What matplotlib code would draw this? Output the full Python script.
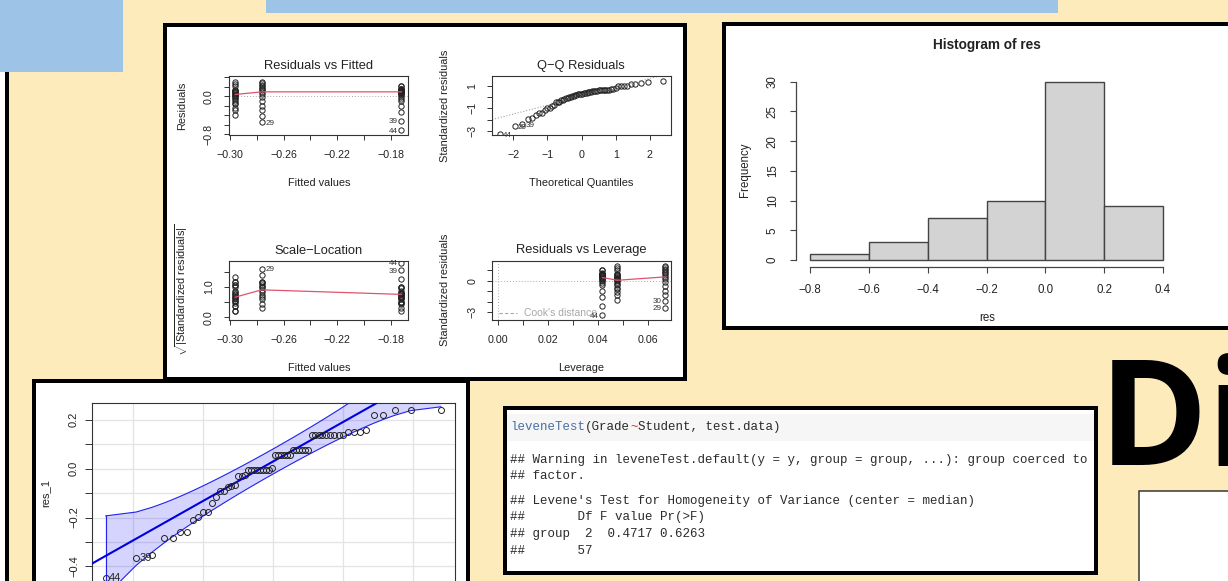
import numpy as np
import matplotlib
matplotlib.use("Agg")
import matplotlib.pyplot as plt
from matplotlib.patches import Rectangle
from statistics import NormalDist

# ---------------- data ----------------
group_names = ["A", "B", "C"]
fitted_levels = [-0.2963, -0.2765, -0.1719]
res_A = [-0.39, -0.30, -0.24, -0.17, -0.15, -0.10, -0.06, -0.03, 0.01, 0.01,
         0.03, 0.05, 0.06, 0.08, 0.09, 0.11, 0.13, 0.13, 0.22, 0.25, 0.30]
res_B = [-0.55, -0.41, -0.30, -0.21, -0.10, -0.02, 0.04, 0.08, 0.12, 0.15,
         0.18, 0.21, 0.24, 0.27, 0.29]
res_C = [-0.71, -0.52, -0.34, -0.21, -0.10, -0.05, -0.01, 0.02, 0.04, 0.06,
         0.06, 0.08, 0.09, 0.09, 0.11, 0.11, 0.13, 0.13, 0.13, 0.14, 0.14,
         0.16, 0.22, 0.22]
flag_ids = {("B", 0): "29", ("B", 1): "30", ("C", 0): "44", ("C", 1): "39"}

rvf_smooth = [0.035, 0.09, 0.09]
sl_smooth = [0.67, 0.91, 0.76]
rvl_lev = [0.0417, 0.0476, 0.0667]
rvl_smooth = [0.29, 0.03, 0.35]

hist_breaks = [-0.8, -0.6, -0.4, -0.2, 0.0, 0.2, 0.4]

res1_sorted = [-0.449, -0.365, -0.354, -0.283, -0.282, -0.259, -0.259, -0.211, -0.197, -0.177,
               -0.177, -0.139, -0.116, -0.091, -0.091, -0.075, -0.070, -0.068, -0.031, -0.031,
               -0.024, -0.007, -0.007, -0.007, -0.007, -0.007, -0.007, -0.007, -0.007, 0.004,
               0.054, 0.054, 0.054, 0.054, 0.054, 0.054, 0.078, 0.078, 0.078, 0.078,
               0.078, 0.078, 0.139, 0.139, 0.139, 0.139, 0.139, 0.139, 0.139, 0.139,
               0.139, 0.150, 0.150, 0.150, 0.159, 0.220, 0.220, 0.242, 0.242, 0.242]
res1_labels = {0: "44", 1: "39"}

code_lines = [
    [("leveneTest", "#4A6FA5"), ("(Grade", "#2B2B2B"), ("~", "#C0392B"), ("Student, test.data)", "#2B2B2B")],
    [("## Warning in leveneTest.default(y = y, group = group, ...): group coerced to", "#2B2B2B")],
    [("## factor.", "#2B2B2B")],
    [("## Levene's Test for Homogeneity of Variance (center = median)", "#2B2B2B")],
    [("##       Df F value Pr(>F)", "#2B2B2B")],
    [("## group  2  0.4717 0.6263", "#2B2B2B")],
    [("##       57", "#2B2B2B")],
]
code_y = [427, 460, 476, 501, 517, 534, 551]

# ---------------- derived model quantities ----------------
groups = [res_A, res_B, res_C]
res = np.concatenate([np.array(g, float) for g in groups])
fitted = np.concatenate([np.full(len(g), f) for g, f in zip(groups, fitted_levels)])
lev = np.concatenate([np.full(len(g), 1.0 / len(g)) for g in groups])
ids = []
for gname, g in zip(group_names, groups):
    for i in range(len(g)):
        ids.append(flag_ids.get((gname, i), ""))
ids = np.array(ids, dtype=object)
n, p = len(res), 3
s = np.sqrt(np.sum(res ** 2) / (n - p))
std = res / (s * np.sqrt(1 - lev))
sqabs = np.sqrt(np.abs(std))
cook = std ** 2 * lev / (p * (1 - lev))
nd = NormalDist()

# ---------------- figure ----------------
W, H = 1228, 581
BEIGE = "#FDEBBB"
BLUE = "#9DC3E6"
plt.rcParams["font.family"] = ["Liberation Sans", "DejaVu Sans"]
plt.rcParams["mathtext.fontset"] = "custom"
plt.rcParams["mathtext.rm"] = "Liberation Sans"
plt.rcParams["mathtext.it"] = "Liberation Sans:italic"

fig = plt.figure(figsize=(W / 100, H / 100), dpi=100, facecolor=BEIGE)
bg = fig.add_axes([0, 0, 1, 1], zorder=0)
bg.set_xlim(0, W)
bg.set_ylim(H, 0)
bg.axis("off")

PX = 0.72  # points per pixel


def rect(x0, y0, x1, y1, fc, ec="none", lw_px=0, z=1):
    bg.add_patch(Rectangle((x0, y0), x1 - x0, y1 - y0, facecolor=fc, edgecolor=ec,
                           linewidth=lw_px * PX, zorder=z))


def frame(x0, y0, x1, y1, t=4, z=2):
    rect(x0 + t / 2, y0 + t / 2, x1 - t / 2, y1 - t / 2, "white", "black", t, z)


def px_axes(x0, y0, x1, y1, z=3):
    return fig.add_axes([x0 / W, 1 - y1 / H, (x1 - x0) / W, (y1 - y0) / H], zorder=z)


def label(x, y, s, size=7.9, rot=0, **kw):
    bg.text(x, y, s, fontsize=size, rotation=rot, ha="center", va="center",
            color="#222222", zorder=10, **kw)


def r_style(ax, xlim, ylim, xt, xl, yt, yl, fs=7.7, tlen=3.6, pad=7.0, box=True):
    ax.set_xlim(xlim)
    ax.set_ylim(ylim)
    ax.set_facecolor("none")
    ax.set_xticks(xt)
    ax.set_xticklabels(xl)
    ax.set_yticks(yt)
    ax.set_yticklabels(yl, rotation=90, va="center")
    ax.tick_params(direction="out", length=tlen, width=0.7, labelsize=fs, pad=pad,
                   colors="#333333", labelcolor="#222222")
    for sp in ax.spines.values():
        sp.set_linewidth(0.8)
        sp.set_color("#333333")
        sp.set_visible(box)


M = "\u2212"

# background shapes
rect(0, 0, 123, 72, BLUE)
rect(266, 0, 1058, 13, BLUE)
rect(0, 72, 5, H + 5, "white")
rect(5, 72, 9, H + 5, "black")

# panel frames
frame(163, 23, 687, 381)
frame(722, 22, 1240, 330)
frame(32, 379, 470, 600)
frame(503, 406, 1098, 575)
rect(1138.5, 490.5, 1240, 600, "white", "#333333", 1.5, 2)

# big text
bg.text(1099, 465, "Di", fontsize=106, fontweight="bold", family=["Open Sans", "DejaVu Sans"],
        ha="left", va="baseline", color="black", zorder=5)

pt_kw = dict(ls="none", marker="o", mfc="none", mec="#222222", ms=3.8, mew=0.7)
RED = "#DF536B"


def id_text(ax, x, y, s, side):
    if side == "right":
        ax.annotate(s, (x, y), xytext=(2.5, -0.8), textcoords="offset points", fontsize=5.8,
                    ha="left", va="center", color="#333333", annotation_clip=False)
    else:
        ax.annotate(s, (x, y), xytext=(-2.5, -0.8), textcoords="offset points", fontsize=5.8,
                    ha="right", va="center", color="#333333", annotation_clip=False)


# ---- Residuals vs Fitted ----
ax1 = px_axes(228.6, 76.4, 408.4, 134.9)
r_style(ax1, (-0.3013, -0.1666), (-0.815, 0.415),
        np.arange(-0.30, -0.179, 0.02), [M + "0.30", "", M + "0.26", "", M + "0.22", "", M + "0.18"],
        [-0.8, -0.6, -0.4, -0.2, 0.0, 0.2, 0.4], [M + "0.8", "", "", "", "0.0", "", ""])
ax1.axhline(0, color="#AAAAAA", lw=0.7, ls=(0, (1, 2)))
ax1.plot(fitted, res, **pt_kw)
ax1.plot(fitted_levels, rvf_smooth, color=RED, lw=0.9)
top3 = np.argsort(-np.abs(res))[:3]
xm = np.mean(ax1.get_xlim())
for i in top3:
    id_text(ax1, fitted[i], res[i], ids[i], "right" if fitted[i] < xm else "left")
label(318.9, 65.6, "Residuals vs Fitted", 9.3)
label(318.9, 183.5, "Fitted values")
label(182, 105.5, "Residuals", rot=90)

# ---- Q-Q Residuals ----
ax2 = px_axes(492.3, 76.4, 671.4, 134.9)
r_style(ax2, (-2.61, 2.63), (-3.34, 1.83),
        [-2, -1, 0, 1, 2], [M + "2", M + "1", "0", "1", "2"],
        [-3, -2, -1, 0, 1], [M + "3", "", M + "1", "", "1"])
order = np.argsort(std)
qth = np.array([nd.inv_cdf((i + 0.5) / n) for i in range(n)])
ax2.plot(qth, std[order], **pt_kw)
qy = np.quantile(std, [0.25, 0.75])
qx = np.array([nd.inv_cdf(0.25), nd.inv_cdf(0.75)])
slope = (qy[1] - qy[0]) / (qx[1] - qx[0])
icpt = qy[0] - slope * qx[0]
xx = np.array(ax2.get_xlim())
ax2.plot(xx, icpt + slope * xx, color="#888888", lw=0.7, ls=(0, (1, 2)))
top3s = set(np.argsort(-np.abs(std))[:3])
for rank, i in enumerate(order):
    if i in top3s:
        id_text(ax2, qth[rank], std[i], ids[i], "right" if qth[rank] < 0 else "left")
label(581, 65.6, "Q" + M + "Q Residuals", 9.3)
label(581, 183.5, "Theoretical Quantiles")
label(445, 106, "Standardized residuals", rot=90)

# ---- Scale-Location ----
ax3 = px_axes(228.6, 261.0, 408.4, 320.2)
r_style(ax3, (-0.3013, -0.1666), (-0.09, 1.86),
        np.arange(-0.30, -0.179, 0.02), [M + "0.30", "", M + "0.26", "", M + "0.22", "", M + "0.18"],
        [0.0, 0.5, 1.0, 1.5], ["0.0", "", "1.0", ""])
ax3.plot(fitted, sqabs, **pt_kw)
ax3.plot(fitted_levels, sl_smooth, color=RED, lw=0.9)
top3sl = np.argsort(-sqabs)[:3]
for i in top3sl:
    id_text(ax3, fitted[i], sqabs[i], ids[i], "right" if fitted[i] < xm else "left")
label(318.9, 250.5, "Scale" + M + "Location", 9.3)
label(318.9, 368, "Fitted values")
bg.text(182, 290, r"$\sqrt{|\mathrm{Standardized\ residuals}|}$", fontsize=7.9, rotation=90,
        ha="center", va="center", color="#222222", zorder=10)

# ---- Residuals vs Leverage ----
ax4 = px_axes(492.3, 261.0, 671.4, 320.2)
r_style(ax4, (-0.0023, 0.0692), (-3.74, 1.85),
        [0, 0.01, 0.02, 0.03, 0.04, 0.05, 0.06], ["0.00", "", "0.02", "", "0.04", "", "0.06"],
        [-3, -2, -1, 0, 1], [M + "3", "", "", "0", ""])
ax4.axhline(0, color="#AAAAAA", lw=0.7, ls=(0, (1, 2)))
ax4.axvline(0, color="#AAAAAA", lw=0.7, ls=(0, (1, 2)))
ax4.plot(lev, std, **pt_kw)
ax4.plot(rvl_lev, rvl_smooth, color=RED, lw=0.9)
ax4.plot([0.0005, 0.0075], [-3.05, -3.05], color="#A8A8A8", lw=0.8, ls=(0, (3, 2)))
ax4.text(0.0105, -3.05, "Cook's distance", fontsize=7.5, color="#A8A8A8", va="center", ha="left")
top3c = np.argsort(-cook)[:3]
for i in top3c:
    id_text(ax4, lev[i], std[i], ids[i], "left")
label(581, 250.5, "Residuals vs Leverage", 9.3)
label(581, 368, "Leverage")
label(445, 290, "Standardized residuals", rot=90)

# ---- Histogram ----
axh = px_axes(796, 74.6, 1177, 267.1)
axh.set_facecolor("none")
axh.hist(res, bins=hist_breaks, color="#D3D3D3", edgecolor="#444444", linewidth=1.0)
axh.set_xlim(-0.848, 0.448)
axh.set_ylim(-1.2, 31.2)
for k in ("top", "right"):
    axh.spines[k].set_visible(False)
axh.spines["left"].set_bounds(0, 30)
axh.spines["bottom"].set_bounds(-0.8, 0.4)
for k in ("left", "bottom"):
    axh.spines[k].set_color("#444444")
    axh.spines[k].set_linewidth(0.9)
axh.set_xticks(hist_breaks)
axh.set_xticklabels([M + "0.8", M + "0.6", M + "0.4", M + "0.2", "0.0", "0.2", "0.4"])
axh.set_yticks([0, 5, 10, 15, 20, 25, 30])
axh.set_yticklabels(["0", "5", "10", "15", "20", "25", "30"], rotation=90, va="center")
axh.tick_params(direction="out", length=4.3, width=0.8, labelsize=8.3, pad=8,
                colors="#444444", labelcolor="#222222")
label(986.7, 45, "Histogram of res", 9.8, fontweight="bold")
label(986.7, 318, "res", 8.3)
label(745, 170, "Frequency", 8.3, rot=90)

# ---- car::qqPlot of res_1 ----
axq = px_axes(92.3, 402.7, 455.0, 585.2)
r1 = np.array(res1_sorted)
m = len(r1)
Pp = (np.arange(1, m + 1) - 0.5) / m
zq = np.array([nd.inv_cdf(v) for v in Pp])
r_style(axq, (-2.586, 2.595), (-0.477, 0.270),
        [-2, -1, 0, 1, 2], ["", "", "", "", ""],
        [-0.4, -0.3, -0.2, -0.1, 0.0, 0.1, 0.2], [M + "0.4", "", M + "0.2", "", "0.0", "", "0.2"],
        fs=8, tlen=5, pad=4.5)
for gx in [-2, -1, 0, 1, 2]:
    axq.axvline(gx, color="#E3E3E3", lw=0.9, zorder=0)
for gy in [-0.4, -0.3, -0.2, -0.1, 0.0, 0.1, 0.2]:
    axq.axhline(gy, color="#E3E3E3", lw=0.9, zorder=0)
Q = np.quantile(r1, [0.25, 0.75])
b = (Q[1] - Q[0]) / (qx[1] - qx[0])
a = Q[0] - b * qx[0]
dens = np.exp(-zq ** 2 / 2) / np.sqrt(2 * np.pi)
SE = (b / dens) * np.sqrt(Pp * (1 - Pp) / m)
fitv = a + b * zq
zz = nd.inv_cdf(0.975)
upper, lower = fitv + zz * SE, fitv - zz * SE
axq.fill(np.concatenate([zq, zq[::-1]]), np.concatenate([upper, lower[::-1]]),
         color="#0000FF", alpha=0.17, lw=0, zorder=1)
axq.plot(zq, upper, color="#2222EE", lw=0.8, zorder=2)
axq.plot(zq, lower, color="#2222EE", lw=0.8, zorder=2)
axq.plot([zq[0], zq[0]], [lower[0], upper[0]], color="#2222EE", lw=0.8, zorder=2)
xl = np.array(axq.get_xlim())
axq.plot(xl, a + b * xl, color="#0000DD", lw=1.5, zorder=3)
axq.plot(zq, r1, ls="none", marker="o", mfc="none", mec="#222222", ms=4.3, mew=0.7, zorder=4)
for k, s_ in res1_labels.items():
    axq.annotate(s_, (zq[k], r1[k]), xytext=(2.2, 0), textcoords="offset points", fontsize=8,
                 ha="left", va="center", color="#222222", zorder=5)
label(45, 493, "res_1", 8, rot=90)

# ---- code chunk ----
rect(507, 414, 1094, 441, "#F6F6F6", z=3)
CW = 7.5
for ln, y in zip(code_lines, code_y):
    col = 0
    for tok, c in ln:
        bg.text(510 + col * CW, y, tok, fontsize=9, family=["Liberation Mono", "DejaVu Sans Mono"],
                ha="left", va="center", color=c, zorder=6)
        col += len(tok)

fig.savefig("out.png", dpi=100, facecolor=BEIGE)
